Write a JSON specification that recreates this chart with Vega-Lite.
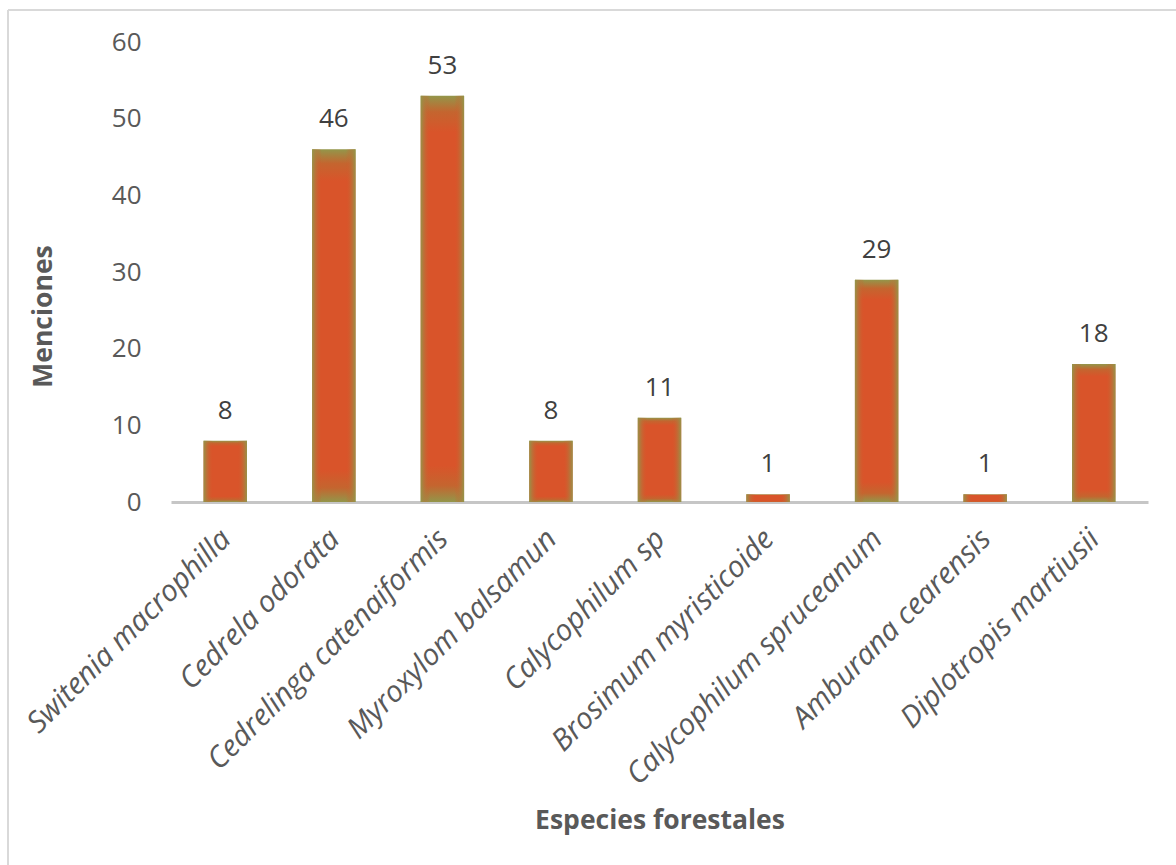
{
  "$schema": "https://vega.github.io/schema/vega-lite/v6.json",
  "width": 1168,
  "height": 855,
  "autosize": {"type": "none"},
  "padding": {"left": 8, "top": 10, "right": 0, "bottom": 0},
  "background": "white",
  "config": {
    "view": {"stroke": "#D9D9D9", "strokeWidth": 2, "strokeDash": [1168, 2023, 855, 0]},
    "font": "Open Sans"
  },
  "data": {
    "values": [
      {"especie": "Switenia macrophilla", "menciones": 8},
      {"especie": "Cedrela odorata", "menciones": 46},
      {"especie": "Cedrelinga catenaiformis", "menciones": 53},
      {"especie": "Myroxylom balsamun", "menciones": 8},
      {"especie": "Calycophilum sp", "menciones": 11},
      {"especie": "Brosimum myristicoide", "menciones": 1},
      {"especie": "Calycophilum spruceanum", "menciones": 29},
      {"especie": "Amburana cearensis", "menciones": 1},
      {"especie": "Diplotropis martiusii", "menciones": 18}
    ]
  },
  "encoding": {
    "x": {
      "field": "especie",
      "type": "nominal",
      "sort": null,
      "scale": {"range": [163, 1140], "paddingInner": 0.6, "paddingOuter": 0.3},
      "axis": {
        "title": "Especies forestales",
        "offset": -363,
        "domainColor": "#C6C6C6",
        "domainWidth": 3,
        "ticks": false,
        "labelAngle": -45,
        "labelAlign": "right",
        "labelBaseline": "middle",
        "labelPadding": 32,
        "labelOffset": 1,
        "labelFontSize": 29.5,
        "labelFontStyle": "italic",
        "labelColor": "#595959",
        "labelOverlap": false,
        "labelLimit": 0,
        "titleFontSize": 26.5,
        "titleFontWeight": "bold",
        "titleColor": "#595959",
        "titleY": 318,
        "titleBaseline": "middle"
      }
    },
    "y": {
      "field": "menciones",
      "type": "quantitative",
      "scale": {"domain": [0, 60], "range": [492, 32], "nice": false},
      "axis": {
        "title": "Menciones",
        "offset": -163,
        "domain": false,
        "ticks": false,
        "grid": false,
        "values": [0, 10, 20, 30, 40, 50, 60],
        "labelPadding": 30,
        "labelFontSize": 26,
        "labelColor": "#595959",
        "titleFontSize": 26.5,
        "titleFontWeight": "bold",
        "titleColor": "#595959",
        "titleX": -128,
        "titleY": 306,
        "titleBaseline": "middle"
      }
    }
  },
  "layer": [
    {
      "mark": {
        "type": "bar",
        "fill": {
          "gradient": "linear",
          "x1": 0, "y1": 0, "x2": 0, "y2": 1,
          "stops": [
            {"offset": 0, "color": "#93964A"},
            {"offset": 0.04, "color": "#C4652F"},
            {"offset": 0.09, "color": "#D9542A"},
            {"offset": 0.91, "color": "#D9542A"},
            {"offset": 0.96, "color": "#C4652F"},
            {"offset": 1, "color": "#93964A"}
          ]
        }
      }
    },
    {
      "mark": {
        "type": "bar",
        "fill": {
          "gradient": "linear",
          "x1": 0, "y1": 0, "x2": 1, "y2": 0,
          "stops": [
            {"offset": 0, "color": "rgba(147,150,74,0.95)"},
            {"offset": 0.22, "color": "rgba(217,84,42,0)"},
            {"offset": 0.78, "color": "rgba(217,84,42,0)"},
            {"offset": 1, "color": "rgba(147,150,74,0.95)"}
          ]
        }
      }
    },
    {
      "mark": {"type": "text", "dy": -30, "fontSize": 26, "color": "#404040", "baseline": "middle"},
      "encoding": {"text": {"field": "menciones", "type": "quantitative"}}
    }
  ]
}
